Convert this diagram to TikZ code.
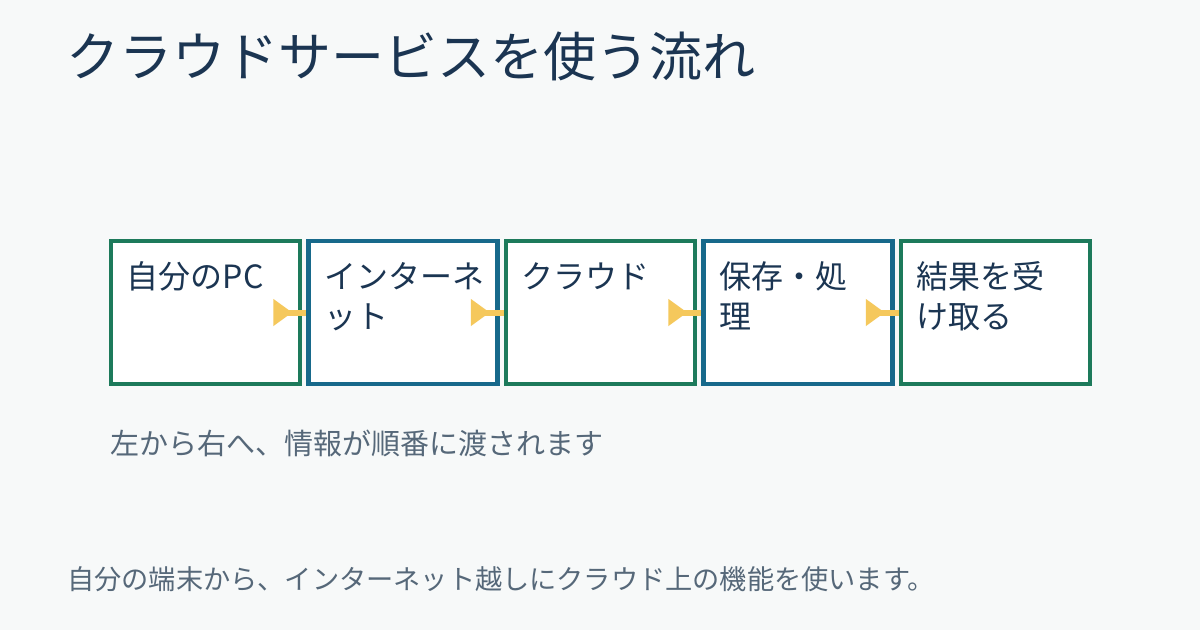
\documentclass[tikz,border=0pt]{standalone}
\usepackage{fontspec}
\setmainfont{Noto Sans CJK JP}
\usetikzlibrary{arrows.meta}
\definecolor{bgcol}{HTML}{F7F9F9}
\definecolor{navy}{HTML}{1B3552}
\definecolor{greyblue}{HTML}{566879}
\definecolor{boxgreen}{HTML}{1D7A5B}
\definecolor{boxblue}{HTML}{17698B}
\definecolor{flowyellow}{HTML}{F5C85C}
\begin{document}
\begin{tikzpicture}[x=1pt, y=-1pt,
  box/.style={draw, rectangle, fill=white, line width=4.5pt, minimum width=189pt, minimum height=143pt, inner sep=0pt},
  greenbox/.style={box, draw=boxgreen},
  bluebox/.style={box, draw=boxblue},
  boxtext/.style={anchor=base west, align=left, inner sep=0pt, text=navy, font=\fontsize{32}{40}\selectfont},
  flow/.style={draw=flowyellow, line width=6pt, {Triangle[reversed, length=19pt, width=26pt]}-}]
\useasboundingbox[fill=bgcol] (0,0) rectangle (1200,630);

\node (title) [anchor=base west, inner sep=0pt, text=navy, font=\fontsize{53}{60}\selectfont] at (66,76) {クラウドサービスを使う流れ};

\node (pc) [greenbox] at (205.5,312.5) {};
\node (net) [bluebox] at (403,312.5) {};
\node (cloud) [greenbox] at (600.5,312.5) {};
\node (store) [bluebox] at (798,312.5) {};
\node (result) [greenbox] at (995.5,312.5) {};

% two-line labels sit on their last baseline, so they go 40pt lower
\node (pctext) [boxtext] at ([xshift=18pt, yshift=-50pt]pc.north west) {自分のPC};
\node (nettext) [boxtext] at ([xshift=18pt, yshift=-90pt]net.north west) {インターネ\\ット};
\node (cloudtext) [boxtext] at ([xshift=18pt, yshift=-50pt]cloud.north west) {クラウド};
\node (storetext) [boxtext] at ([xshift=18pt, yshift=-90pt]store.north west) {保存・処\\理};
\node (resulttext) [boxtext] at ([xshift=18pt, yshift=-90pt]result.north west) {結果を受\\け取る};

\coordinate (a1) at ([xshift=-29pt]pc.east);
\coordinate (a2) at ([xshift=-29pt]net.east);
\coordinate (a3) at ([xshift=-29pt]cloud.east);
\coordinate (a4) at ([xshift=-29pt]store.east);

\draw [flow] (a1) -- (net.west);
\draw [flow] (a2) -- (cloud.west);
\draw [flow] (a3) -- (store.west);
\draw [flow] (a4) -- (result.west);

\node (caption) [anchor=base west, inner sep=0pt, text=greyblue, font=\fontsize{29}{34}\selectfont] at (110,454) {左から右へ、情報が順番に渡されます};

\node (footer) [anchor=base west, inner sep=0pt, text=greyblue, font=\fontsize{27.2}{32}\selectfont] at (67,589) {自分の端末から、インターネット越しにクラウド上の機能を使います。};
\end{tikzpicture}
\end{document}
